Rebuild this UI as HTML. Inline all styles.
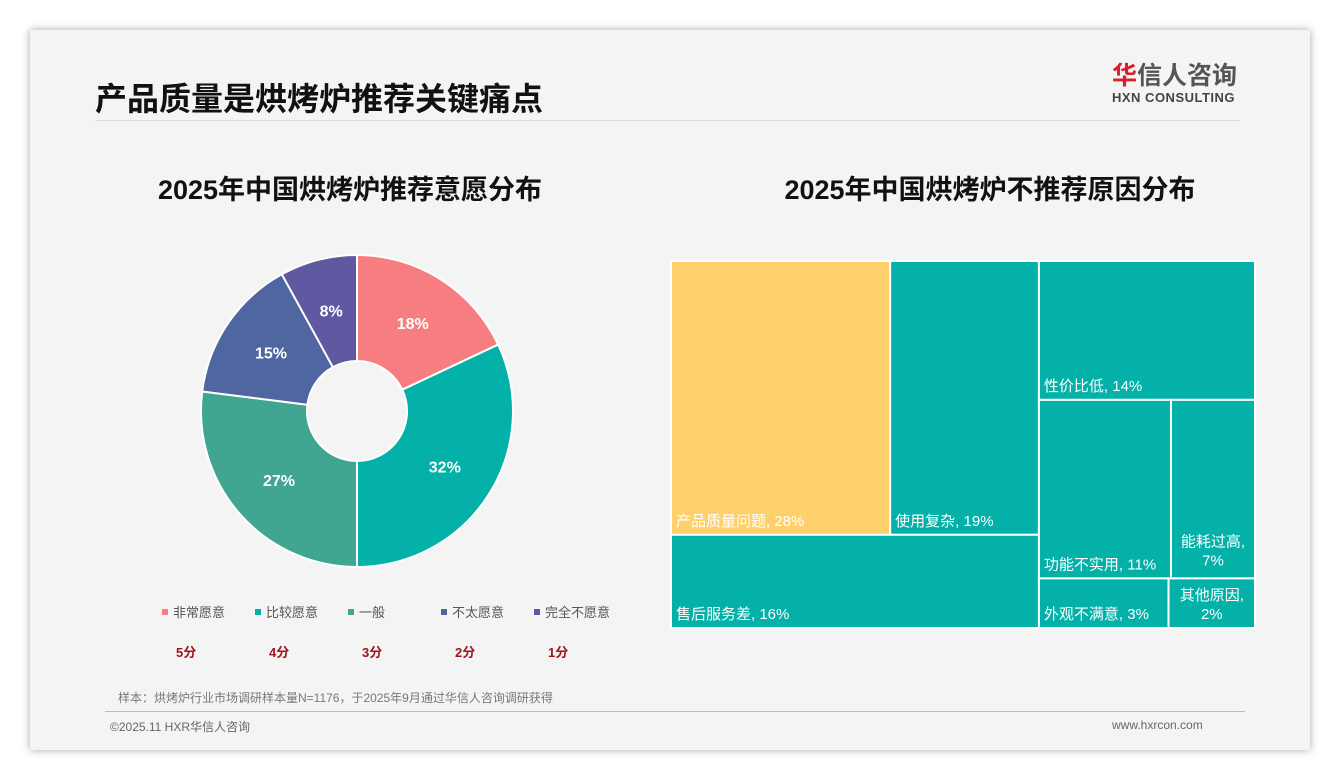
<!DOCTYPE html>
<html><head><meta charset="utf-8"><style>
body{margin:0;width:1340px;height:780px;background:#fff;position:relative;overflow:hidden;font-family:"Liberation Sans","Noto Sans CJK SC",sans-serif}
.abs{position:absolute}
#card{left:30px;top:30px;width:1280px;height:720px;background:#f4f4f4;box-shadow:0 0 8px rgba(0,0,0,.35)}
</style></head><body>
<div id="card" class="abs"></div>
<div class="abs" style="left:95px;top:74px;font-size:32px;font-weight:bold;color:#111">产品质量是烘烤炉推荐关键痛点</div>
<div class="abs" style="left:1112px;top:62px;text-align:left">
<div style="font-size:25px;font-weight:bold;color:#555;line-height:28px"><span style="color:#d7202a">华</span>信人咨询</div>
<div style="font-size:13px;font-weight:bold;color:#444;letter-spacing:.5px">HXN CONSULTING</div></div>
<div class="abs" style="left:95px;top:120px;width:1145px;height:1px;background:#ddd"></div>
<div class="abs" style="left:100px;width:500px;top:168px;text-align:center;font-size:27px;font-weight:bold;color:#111">2025年中国烘烤炉推荐意愿分布</div>
<div class="abs" style="left:740px;width:500px;top:168px;text-align:center;font-size:27px;font-weight:bold;color:#111">2025年中国烘烤炉不推荐原因分布</div>
<svg class="abs" style="left:0;top:0" width="1340" height="780" id="svg"></svg>
<div class="abs" id="legend" style="left:0;top:600px;width:700px;height:70px"></div>
<div class="abs" style="left:118px;top:689px;font-size:12px;color:#777">样本：烘烤炉行业市场调研样本量N=1176，于2025年9月通过华信人咨询调研获得</div>
<div class="abs" style="left:105px;top:711px;width:1140px;height:1px;background:#a9c2d8"></div>
<div class="abs" style="left:110px;top:718px;font-size:12px;color:#666">©2025.11 HXR华信人咨询</div>
<div class="abs" style="left:1112px;top:718px;font-size:12px;color:#666">www.hxrcon.com</div>
<script>
const donutLabels=["非常愿意","比较愿意","一般","不太愿意","完全不愿意"];
const donutScores=["5分","4分","3分","2分","1分"];
const donutValues=[18,32,27,15,8];
const donutColors=["#f67d80","#03b1a9","#40a591","#4f66a0","#5f59a1"];
const tmLabels=["产品质量问题","使用复杂","售后服务差","性价比低","功能不实用","能耗过高","外观不满意","其他原因"];
const tmValues=[28,19,16,14,11,7,3,2];
const NS="http://www.w3.org/2000/svg";
const svg=document.getElementById('svg');
function mk(t,a){const e=document.createElementNS(NS,t);for(const k in a)e.setAttribute(k,a[k]);svg.appendChild(e);return e;}
const cx=357,cy=411,R=156,r=50;
const tot=donutValues.reduce((a,b)=>a+b,0);
let ang=0;
donutValues.forEach((v,i)=>{
 const a0=ang,a1=ang+v/tot*2*Math.PI;ang=a1;
 const p=(a,rr)=>[cx+rr*Math.sin(a),cy-rr*Math.cos(a)];
 const [x0,y0]=p(a0,R),[x1,y1]=p(a1,R),[x2,y2]=p(a1,r),[x3,y3]=p(a0,r);
 const lg=(a1-a0)>Math.PI?1:0;
 const s=mk('path',{d:`M${x0},${y0}A${R},${R} 0 ${lg} 1 ${x1},${y1}L${x2},${y2}A${r},${r} 0 ${lg} 0 ${x3},${y3}Z`,fill:donutColors[i],stroke:'#fff','stroke-width':2});
 
 
 const [lx,ly]=p((a0+a1)/2,104);
 const t=mk('text',{x:lx,y:ly+6,'text-anchor':'middle',fill:'#fff','font-size':16,'font-weight':'bold'});
 t.textContent=v+'%';
 
 
});
const lg=document.getElementById('legend');
donutLabels.forEach((l,i)=>{
 const x=162+i*93;
 const d=document.createElement('div');
 
 
 d.style.cssText=`position:absolute;left:${x}px;top:2px;font-size:13px;color:#555;white-space:nowrap`;
 d.innerHTML=`<span style="display:inline-block;width:6px;height:6px;background:${donutColors[i]};margin-right:5px;vertical-align:2px"></span>${l}`;
 lg.appendChild(d);
 const s=document.createElement('div');
 
 
 s.style.cssText=`position:absolute;left:${x+14}px;top:42px;font-size:13px;color:#a0141e;font-weight:bold`;
 s.textContent=donutScores[i];
 lg.appendChild(s);
});
const X0=671,Y0=261,W=584,H=367;
const T=tmValues.reduce((a,b)=>a+b,0);
const rects=[];
const s=tmValues;
const leftW=W*(s[0]+s[1]+s[2])/T;
const topH=H*(s[0]+s[1])/(s[0]+s[1]+s[2]);
const w0=leftW*s[0]/(s[0]+s[1]);
rects.push([X0,Y0,w0,topH]);
rects.push([X0+w0,Y0,leftW-w0,topH]);
rects.push([X0,Y0+topH,leftW,H-topH]);
const rx=X0+leftW,rw=W-leftW,rt=s[3]+s[4]+s[5]+s[6]+s[7];
const h3=H*s[3]/rt;
rects.push([rx,Y0,rw,h3]);
const rem=H-h3,rt2=rt-s[3];
const h45=rem*(s[4]+s[5])/rt2;
const w4=rw*s[4]/(s[4]+s[5]);
rects.push([rx,Y0+h3,w4,h45]);
rects.push([rx+w4,Y0+h3,rw-w4,h45]);
const w6=rw*s[6]/(s[6]+s[7]);
rects.push([rx,Y0+h3+h45,w6,rem-h45]);
rects.push([rx+w6,Y0+h3+h45,rw-w6,rem-h45]);
rects.forEach((q,i)=>{
 const e=mk('rect',{x:q[0],y:q[1],width:q[2],height:q[3],fill:i==0?'#fdd06b':'#03b1a9',stroke:'#fff','stroke-width':2});
 
 
 const lab=tmLabels[i]+', '+tmValues[i]+'%';
 if(i==5||i==7){
  const off=i==5?32:28;
  [tmLabels[i]+',',tmValues[i]+'%'].forEach((tx,j)=>{const t=mk('text',{x:q[0]+q[2]/2,y:q[1]+q[3]-off+j*19,'text-anchor':'middle',fill:'#fff','font-size':15});t.textContent=tx;});
 } else {
  const t=mk('text',{x:q[0]+5,y:q[1]+q[3]-9,fill:'#fff','font-size':15});
  t.textContent=lab;
  
  
 }
});
</script>
</body></html>
